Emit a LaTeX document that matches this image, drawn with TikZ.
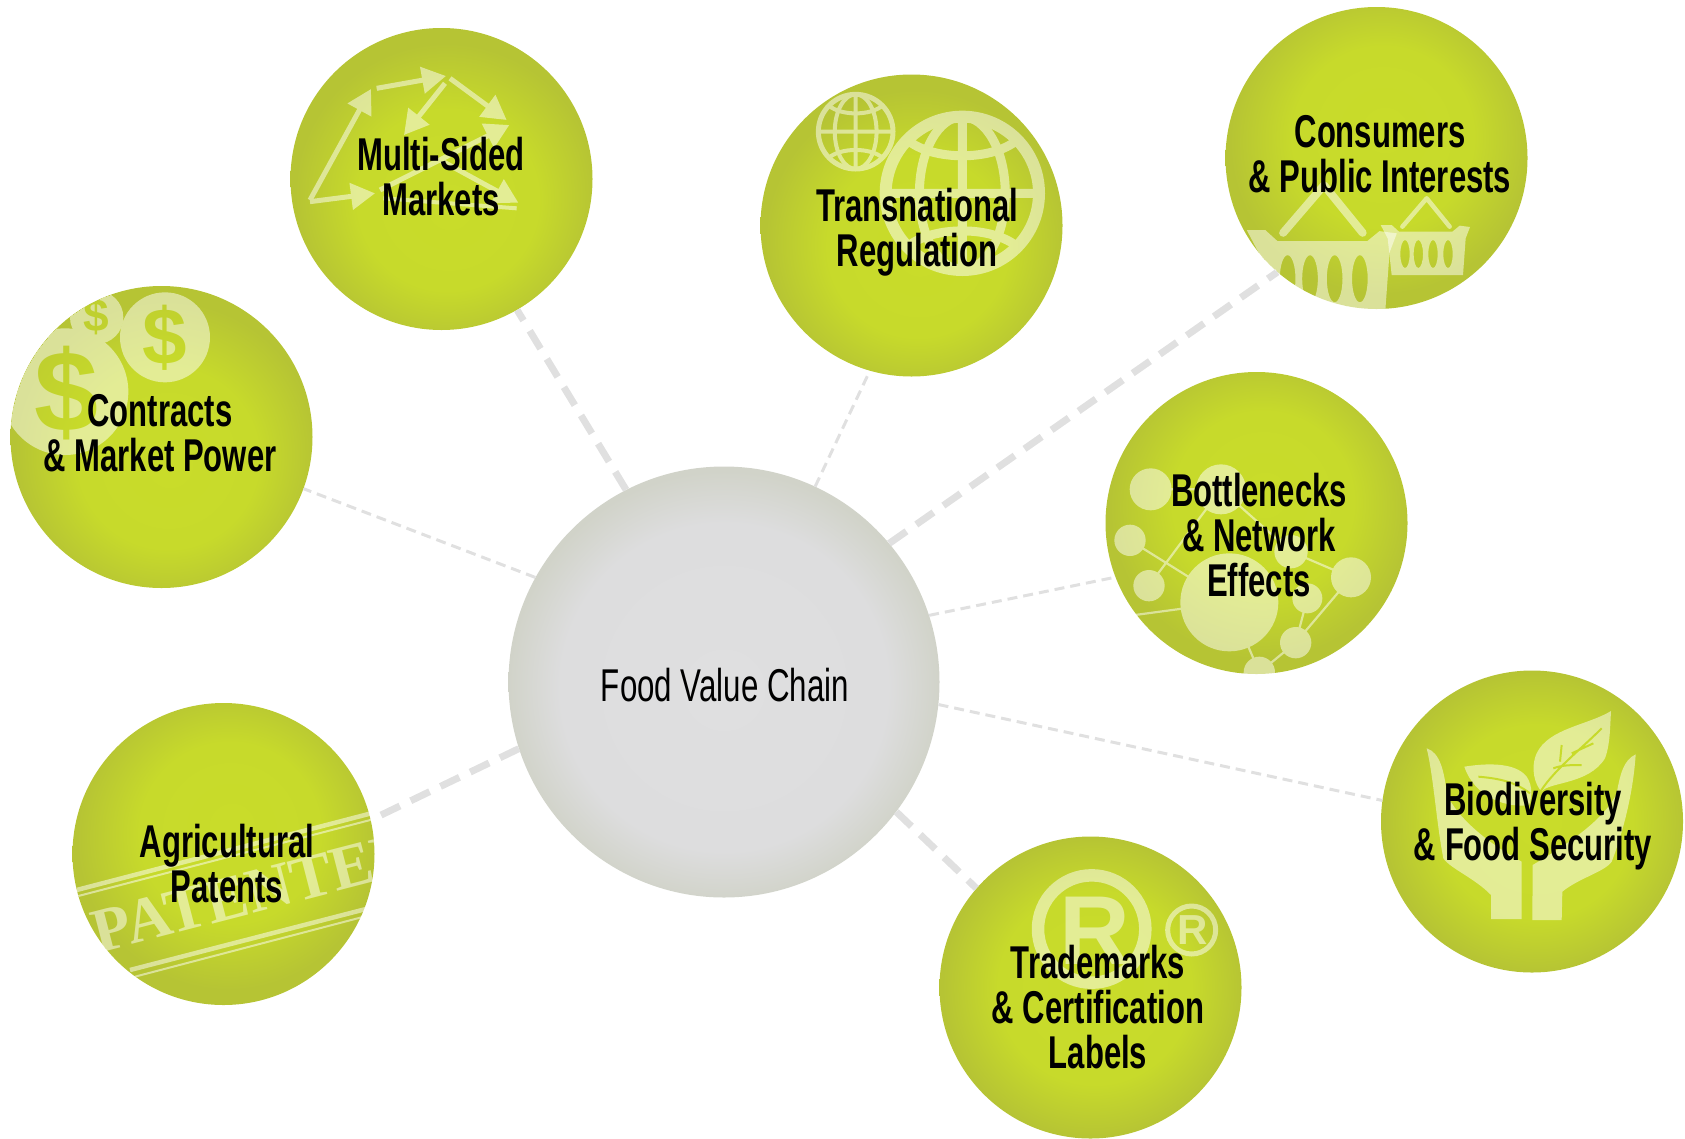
\documentclass[tikz,border=0pt]{standalone}
\usepackage{fontspec}
\usetikzlibrary{arrows.meta}
\setmainfont{Liberation Sans}
\newfontfamily\narrowfont{Liberation Sans}[FakeStretch=0.675]
\newfontfamily\hubfont{Liberation Sans}[FakeStretch=0.68]
\newfontfamily\stampfont{Liberation Serif}
\definecolor{limeA}{HTML}{C9DC2A}
\definecolor{limeB}{HTML}{C7DA2B}
\definecolor{limeC}{HTML}{B6C434}
\definecolor{greyA}{HTML}{DFDFE0}
\definecolor{greyB}{HTML}{DDDDDE}
\definecolor{greyC}{HTML}{D1D3C9}
\definecolor{connGrey}{HTML}{E0E0E0}
\pgfdeclareradialshading{limeLow}{\pgfpoint{1.5bp}{-5bp}}{color(0bp)=(limeA); color(15bp)=(limeB); color(25bp)=(limeC); color(50bp)=(limeC)}
\pgfdeclareradialshading{limeHigh}{\pgfpoint{1.5bp}{5bp}}{color(0bp)=(limeA); color(15bp)=(limeB); color(25bp)=(limeC); color(50bp)=(limeC)}
\pgfdeclareradialshading{limeMid}{\pgfpoint{1bp}{0bp}}{color(0bp)=(limeA); color(16bp)=(limeB); color(25bp)=(limeC); color(50bp)=(limeC)}
\pgfdeclareradialshading{greyBall}{\pgfpoint{0bp}{-1bp}}{color(0bp)=(greyA); color(19bp)=(greyB); color(25bp)=(greyC); color(50bp)=(greyC)}
\tikzset{
  ball/.style={circle,draw=none,minimum size=302pt,inner sep=0pt,shading=#1},
  hub/.style={circle,draw=none,minimum size=431pt,inner sep=0pt,shading=greyBall},
  connthin/.style={draw=connGrey,line width=3pt,dash pattern=on 10pt off 6pt},
  connthick/.style={draw=connGrey,line width=7pt,dash pattern=on 21pt off 12pt},
  lbl/.style={anchor=base,align=center,inner sep=0pt,text=black,font=\narrowfont\bfseries\fontsize{46}{45}\selectfont},
  hublbl/.style={anchor=base,align=center,inner sep=0pt,text=black,font=\hubfont\fontsize{46}{45}\selectfont},
  zm/.style 2 args={shift={(#1,#2)},x=0.33333pt,y=-0.33333pt},
  ghost/.style={transparency group,opacity=0.5},
  arw/.style={draw=white,line width=5pt,-{Triangle[length=24pt,width=26pt,fill=white]}},
}
% globe in zoom units: centre, radius of stroke centre line, rim width, inner stroke width
\newcommand{\globeicon}[5]{%
  \begin{scope}[shift={(#1,#2)},x=#3*0.33333pt,y=-#3*0.33333pt,draw=white,line width=#5pt]
    \draw[line width=#4pt] (0,0) circle[radius=1];
    \draw (0,0) ellipse[x radius=0.56,y radius=1];
    \draw (-1,0) -- (1,0);
    \draw (0,-1) -- (0,1);
    \draw (-0.72,-0.7) .. controls (-0.4,-0.42) and (0.4,-0.42) .. (0.72,-0.7);
    \draw (-0.72,0.7) .. controls (-0.4,0.42) and (0.4,0.42) .. (0.72,0.7);
  \end{scope}}
\newcommand{\basketicon}[4]{%
  \begin{scope}[shift={(#1,#2)},scale=#3]
    \draw[white,line width=#4pt,line cap=round,line join=round] (-70,5) -- (3,-80) -- (72,5);
    \fill[white,even odd rule] (-135,0) -- (-102,0) -- (-80,20) -- (80,20) -- (102,2) -- (133,6) -- (120,40) -- (112,150) -- (-102,150) -- (-114,40) -- cycle
      (-62,87) ellipse[x radius=14,y radius=42]
      (-22,87) ellipse[x radius=14,y radius=42]
      (22,87) ellipse[x radius=14,y radius=42]
      (67,87) ellipse[x radius=14,y radius=42];
  \end{scope}}
\begin{document}
\begin{tikzpicture}[x=1pt,y=-1pt]
\useasboundingbox (0,0) rectangle (1685,1138);
% circles
\node[hub] (food) at (724,682) {};
\node[ball=limeLow] (multi) at (441.5,179) {};
\node[ball=limeLow] (trans) at (911.5,225.5) {};
\node[ball=limeHigh] (consumers) at (1376.5,158) {};
\node[ball=limeLow] (contracts) at (161.5,437) {};
\node[ball=limeHigh] (bottle) at (1256.5,523) {};
\node[ball=limeMid] (bio) at (1532,821.5) {};
\node[ball=limeMid] (trade) at (1090.5,987.5) {};
\node[ball=limeHigh] (agri) at (223.5,854) {};
% connectors
\draw[connthick] (food.117.7) -- (multi.-60.7);
\draw[connthin] (food.65.5) -- (trans.-106);
\draw[connthick] (food.40.6) -- (consumers.-131.4);
\draw[connthin] (food.18.4) -- (bottle.-159.1);
\draw[connthin] (food.-6.1) -- (bio.172.5);
\draw[connthick] (food.-37.7) -- (trade.139.1);
\draw[connthick] (food.198.4) -- (agri.13.7);
\draw[connthin] (food.151.8) -- (contracts.-20.1);
% Multi-sided markets icon
\begin{scope}[zm={280}{20},ghost]
  \draw[arw] (90,540) -- (273,207);
  \draw[arw] (290,205) -- (498,168);
  \draw[arw] (510,175) -- (680,300);
  \draw[arw] (495,190) -- (372,345);
  \draw[arw] (90,545) -- (285,520);
  \draw[arw] (300,510) -- (688,315);
  \draw[arw] (480,420) -- (715,548);
  \draw[white,line width=4pt] (310,535) -- (710,565);
\end{scope}
% Transnational icon
\begin{scope}
  \clip (trans.center) circle[radius=151];
  \begin{scope}[zm={750}{60}]
    \begin{scope}[ghost]\globeicon{317}{215}{112}{5}{4}\end{scope}
    \begin{scope}[ghost]\globeicon{637}{400}{230}{12}{9}\end{scope}
  \end{scope}
\end{scope}
% Consumers icon
\begin{scope}
  \clip (consumers.center) circle[radius=151];
  \begin{scope}[zm={1215}{0}]
    \begin{scope}[ghost]\basketicon{322}{690}{1.68}{8}\end{scope}
    \begin{scope}[ghost]\basketicon{632}{675}{1}{4.5}\end{scope}
  \end{scope}
\end{scope}
% Contracts icon
\begin{scope}
  \clip (contracts.center) circle[radius=151];
  \begin{scope}[zm={0}{280},ghost]
    \fill[white] (195,335) circle[radius=190];
    \fill[white] (495,172) circle[radius=135];
    \fill[white] (290,112) circle[radius=80];
    \node[inner sep=0pt,text=limeA,font=\bfseries\fontsize{115}{115}\selectfont] (d1) at (200,338) {\$};
    \node[inner sep=0pt,text=limeA,font=\bfseries\fontsize{80}{80}\selectfont] (d2) at (495,172) {\$};
    \node[inner sep=0pt,text=limeA,font=\bfseries\fontsize{46}{46}\selectfont] (d3) at (290,108) {\$};
  \end{scope}
\end{scope}
% Bottlenecks icon
\begin{scope}
  \clip (bottle.center) circle[radius=151];
  \begin{scope}[zm={1095}{365},ghost]
    \draw[white,line width=2.2pt] (167,373) -- (378,373) -- (162,662)
      (105,526) -- (403,712) -- (120,750)
      (403,712) -- (493,922) -- (602,833) -- (637,700)
      (378,373) -- (588,560) -- (768,637) -- (602,833);
    \foreach \cx/\cy/\cr in {167/373/63,378/373/75,105/526/47,162/662/47,403/712/147,588/560/50,768/637/60,637/700/45,602/833/47,493/922/47}
      \fill[white] (\cx,\cy) circle[radius=\cr];
  \end{scope}
\end{scope}
% Biodiversity icon
\begin{scope}[zm={1375}{665},ghost]
  % hands
  \fill[white] (155,250) .. controls (195,262) and (208,320) .. (215,385) .. controls (240,450) and (330,530) .. (440,590) -- (440,762) -- (348,762) -- (348,690) .. controls (300,640) and (225,610) .. (205,580) .. controls (185,480) and (175,330) .. cycle;
  \fill[white] (782,268) .. controls (745,285) and (735,330) .. (725,385) .. controls (690,460) and (590,530) .. (473,600) -- (472,765) -- (560,765) -- (562,680) .. controls (610,640) and (690,620) .. (710,590) .. controls (745,500) and (775,380) .. cycle;
  % leaves
  \fill[white] (708,138) .. controls (640,180) and (520,190) .. (485,265) .. controls (465,310) and (480,360) .. (500,380) .. controls (520,350) and (640,360) .. (690,280) .. controls (705,240) and (705,190) .. cycle;
  \fill[white] (268,305) .. controls (330,295) and (420,290) .. (455,335) .. controls (475,365) and (470,400) .. (462,420) .. controls (400,430) and (300,400) .. cycle;
  \draw[limeA,line width=2pt] (490,390) .. controls (530,320) and (610,260) .. (680,190) (555,290) -- (560,240) (590,265) -- (655,235) (535,310) .. controls (560,300) and (590,300) .. (620,300);
  \draw[limeA,line width=2pt] (310,335) .. controls (370,340) and (420,350) .. (465,385);
\end{scope}
% Trademarks icon
\begin{scope}[zm={930}{825}]
  \begin{scope}[ghost]
    \draw[white,line width=12.5pt] (485,312) circle[radius=161];
    \node[inner sep=0pt,text=white,font=\bfseries\fontsize{98}{98}\selectfont] (r1) at (495,318) {R};
  \end{scope}
  \begin{scope}[ghost]
    \draw[white,line width=5pt] (785,315) circle[radius=72];
    \node[inner sep=0pt,text=white,font=\bfseries\fontsize{42}{42}\selectfont] (r2) at (787,315) {R};
  \end{scope}
\end{scope}
% Patent icon
\begin{scope}
  \clip (agri.center) circle[radius=151];
  \begin{scope}[zm={60}{695},ghost]
    \draw[white,line width=4.5pt] (50,585) -- (945,352);
    \draw[white,line width=2pt] (55,603) -- (950,370);
    \draw[white,line width=4.5pt] (210,825) -- (945,635);
    \draw[white,line width=2pt] (225,845) -- (950,655);
    \node[anchor=base west,inner sep=0pt,rotate=14.5,text=white,font=\stampfont\bfseries\fontsize{63}{63}\selectfont] (stamp) at (115,775) {PATENTED};
  \end{scope}
\end{scope}
% labels (anchored on the baseline of the last line)
\node[hublbl] (foodT) at (725,701) {Food Value Chain};
\node[lbl] (multiT) at (441,215) {Multi-Sided\\Markets};
\node[lbl] (transT) at (917,266) {Transnational\\Regulation};
\node[lbl] (consumersT) at (1380,192) {Consumers\\\& Public Interests};
\node[lbl] (contractsT) at (160,471) {Contracts\\\& Market Power};
\node[lbl] (bottleT) at (1259,596) {Bottlenecks\\\& Network\\Effects};
\node[lbl] (bioT) at (1533,860) {Biodiversity\\\& Food Security};
\node[lbl] (tradeT) at (1098,1068) {Trademarks\\\& Certification\\Labels};
\node[lbl] (agriT) at (227,902) {Agricultural\\Patents};
\end{tikzpicture}
\end{document}
